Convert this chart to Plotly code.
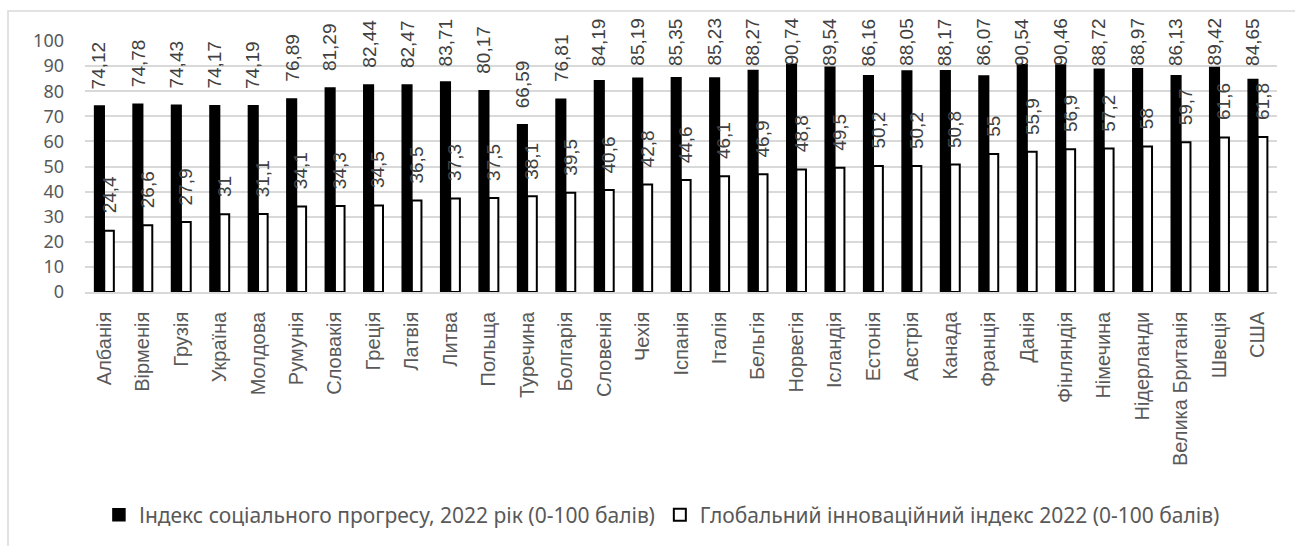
import plotly.graph_objects as go

# Countries on the category axis
countries = [
    "Албанія", "Вірменія", "Грузія", "Україна", "Молдова", "Румунія",
    "Словакія", "Греція", "Латвія", "Литва", "Польща", "Туречина",
    "Болгарія", "Словенія", "Чехія", "Іспанія", "Італія", "Бельгія",
    "Норвегія", "Ісландія", "Естонія", "Австрія", "Канада", "Франція",
    "Данія", "Фінляндія", "Німечина", "Нідерланди", "Велика Британія",
    "Швеція", "США",
]

# Social Progress Index, 2022 (0-100)
spi_2022 = [
    74.12, 74.78, 74.43, 74.17, 74.19, 76.89, 81.29, 82.44, 82.47, 83.71,
    80.17, 66.59, 76.81, 84.19, 85.19, 85.35, 85.23, 88.27, 90.74, 89.54,
    86.16, 88.05, 88.17, 86.07, 90.54, 90.46, 88.72, 88.97, 86.13, 89.42,
    84.65,
]

# Global Innovation Index, 2022 (0-100)
gii_2022 = [
    24.4, 26.6, 27.9, 31, 31.1, 34.1, 34.3, 34.5, 36.5, 37.3,
    37.5, 38.1, 39.5, 40.6, 42.8, 44.6, 46.1, 46.9, 48.8, 49.5,
    50.2, 50.2, 50.8, 55, 55.9, 56.9, 57.2, 58, 59.7, 61.6,
    61.8,
]

spi_name = "Індекс соціального прогресу, 2022 рік (0-100 балів)"
gii_name = "Глобальний інноваційний індекс 2022 (0-100 балів)"

FONT = "Noto Sans, Open Sans, sans-serif"
LABEL_FONT = "Liberation Sans, Arial, sans-serif"
GRID = "#d9d9d9"
TEXT = "#595959"
LABEL = "#404040"


def fmt(v):
    """Decimal comma, as in Ukrainian number formatting."""
    s = f"{v:g}"
    return s.replace(".", ",")


fig = go.Figure()
fig.add_trace(go.Bar(
    name=spi_name, x=countries, y=spi_2022,
    marker=dict(color="#000000", line=dict(color="#000000", width=1.5)),
))
fig.add_trace(go.Bar(
    name=gii_name, x=countries, y=gii_2022,
    marker=dict(color="#ffffff", line=dict(color="#000000", width=2)),
))

# Rotated value labels above each bar; the tallest ones are held below the top edge
LABEL_CAP = 83.3
annotations = []
for i, c in enumerate(countries):
    for vals, dx in ((spi_2022, -4.8), (gii_2022, 4.8)):
        v = vals[i]
        annotations.append(dict(
            x=c, y=min(v, LABEL_CAP), xref="x", yref="y",
            text=fmt(v), showarrow=False, textangle=-90,
            xanchor="center", yanchor="bottom",
            xshift=dx, yshift=15,
            font=dict(family=LABEL_FONT, size=19, color=LABEL),
        ))

# Light chart-area frame
shapes = [dict(
    type="rect", xref="paper", yref="paper",
    x0=(8 - 85) / 1192, x1=(1300 - 85) / 1192,
    y0=(293 - 560) / 252, y1=(293 - 11) / 252,
    line=dict(color=GRID, width=1.5), fillcolor="rgba(0,0,0,0)", layer="below",
)]

fig.update_layout(
    width=1295, height=546,
    margin=dict(l=85, r=18, t=41, b=253, pad=0),
    paper_bgcolor="#ffffff", plot_bgcolor="#ffffff",
    barmode="group", bargap=0.5, bargroupgap=0,
    font=dict(family=FONT, color=TEXT, size=18),
    showlegend=True,
    legend=dict(
        orientation="h", x=0.484, xanchor="center", y=-0.881, yanchor="middle",
        font=dict(family=FONT, size=21, color=TEXT),
        itemwidth=30, traceorder="normal",
    ),
    annotations=annotations,
    shapes=shapes,
)
fig.update_xaxes(
    type="category", tickangle=-90, automargin=False,
    tickfont=dict(family=LABEL_FONT, size=20, color=TEXT),
    showgrid=False, showline=True, linecolor=GRID, linewidth=1.5,
    ticks="", ticklabelstandoff=10,
)
fig.update_yaxes(
    range=[0, 100], dtick=10, automargin=False,
    tickfont=dict(family=FONT, size=18, color=TEXT),
    showgrid=True, gridcolor=GRID, gridwidth=1.5,
    zeroline=False, showline=False, ticks="", ticklabelstandoff=20,
)

fig.write_html("out.html")
